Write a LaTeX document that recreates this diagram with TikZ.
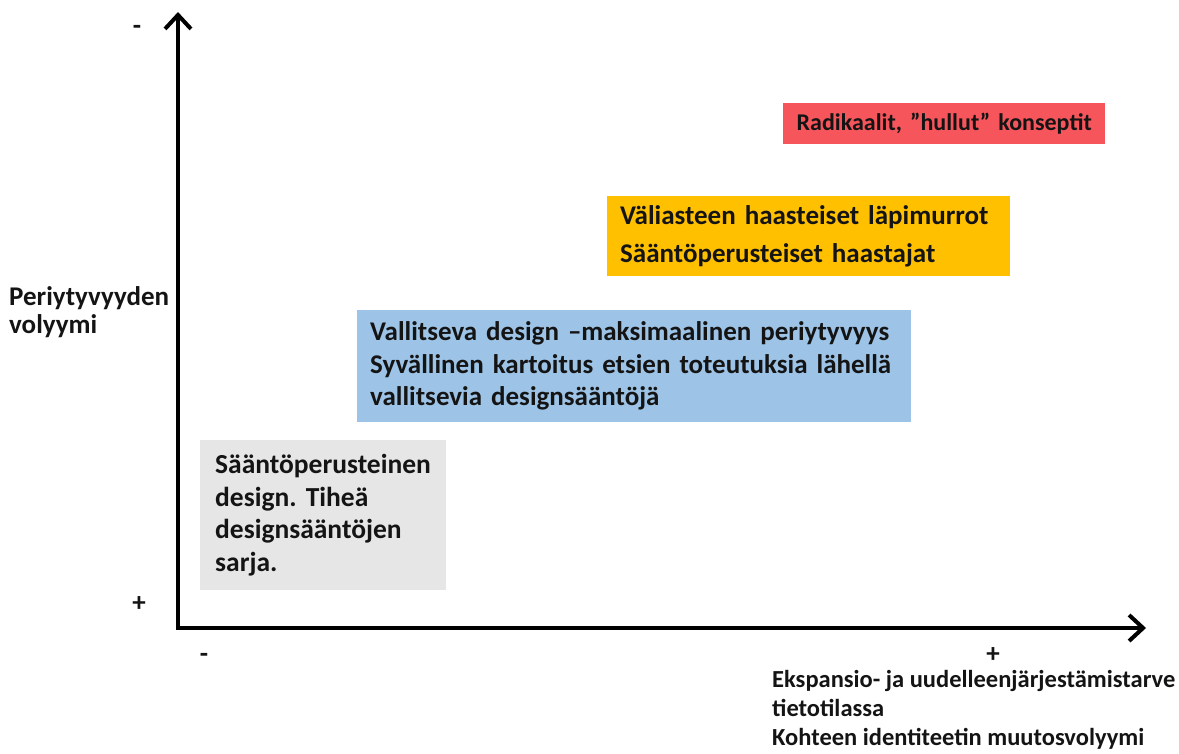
\documentclass[tikz,border=0pt]{standalone}
\usepackage{fontspec}
\setmainfont{Carlito}
\frenchspacing
\usetikzlibrary{arrows.meta}
\definecolor{boxred}{HTML}{F7555C}
\definecolor{boxorange}{HTML}{FFC000}
\definecolor{boxblue}{HTML}{9DC3E6}
\definecolor{boxgray}{HTML}{E7E6E6}
\definecolor{ink}{HTML}{141414}
\begin{document}
\begin{tikzpicture}[x=1pt,y=-1pt,
  axis/.style={line width=4pt, draw=black, line join=miter,
    arrows={Straight Barb[length=14pt,width=26pt,line width=4pt]-Straight Barb[length=14pt,width=26pt,line width=4pt]}},
  zone/.style={anchor=north west, inner sep=0pt, inner xsep=13pt, align=left,
    text=ink, font=\bfseries\fontsize{27}{32.5}\selectfont},
  lbl/.style={anchor=north west, inner sep=0pt, align=left, text=ink,
    font=\bfseries\fontsize{24.5}{29}\selectfont},
  sign/.style={inner sep=0pt, text=ink, font=\bfseries\fontsize{27}{27}\selectfont}]
\useasboundingbox (0,0) rectangle (1179,753);

% axes
\coordinate (ytip) at (178,12);
\coordinate (origin) at (178,628);
\coordinate (xtip) at (1146,628);
\draw[axis] (ytip) -- (origin) -- (xtip);

% axis end markers
\node[sign] (ymin) at (137,30) {-};
\node[sign] (yplus) at (139,604) {+};
\node[sign] (xmin) at (204,658) {-};
\node[sign] (xplus) at (993,655) {+};

% axis titles
\node[lbl, font=\bfseries\fontsize{27}{28}\selectfont] (ylabel) at (9,286) {Periytyvyyden\\volyymi};
\node[lbl] (xlabel) at (772,670) {Ekspansio- ja uudelleenjärjestämistarve\\tietotilassa\\Kohteen identiteetin muutosvolyymi};

% zones
\node[zone, fill=boxred, minimum width=322pt, minimum height=41pt,
  inner xsep=0pt, align=center, text width=322pt,
  font=\bfseries\fontsize{24}{28}\selectfont] (radical) at (783,103)
  {Radikaalit, ”hullut” konseptit};
\node[zone, fill=boxorange, minimum height=80pt, text width=377pt,
  font=\bfseries\fontsize{27}{38}\selectfont] (middle) at (607,196)
  {Väliasteen haasteiset läpimurrot\\Sääntöperusteiset haastajat};
\node[zone, fill=boxblue, minimum height=112pt, text width=528pt] (dominant) at (357,310)
  {Vallitseva design –maksimaalinen periytyvyys\\Syvällinen kartoitus etsien toteutuksia lähellä\\vallitsevia designsääntöjä};
\node[zone, fill=boxgray, minimum height=150pt, text width=216pt, inner xsep=15pt,
  font=\bfseries\fontsize{27.5}{32.5}\selectfont] (rules) at (200,440)
  {Sääntöperusteinen\\design. Tiheä\\designsääntöjen\\sarja.};
\end{tikzpicture}
\end{document}
